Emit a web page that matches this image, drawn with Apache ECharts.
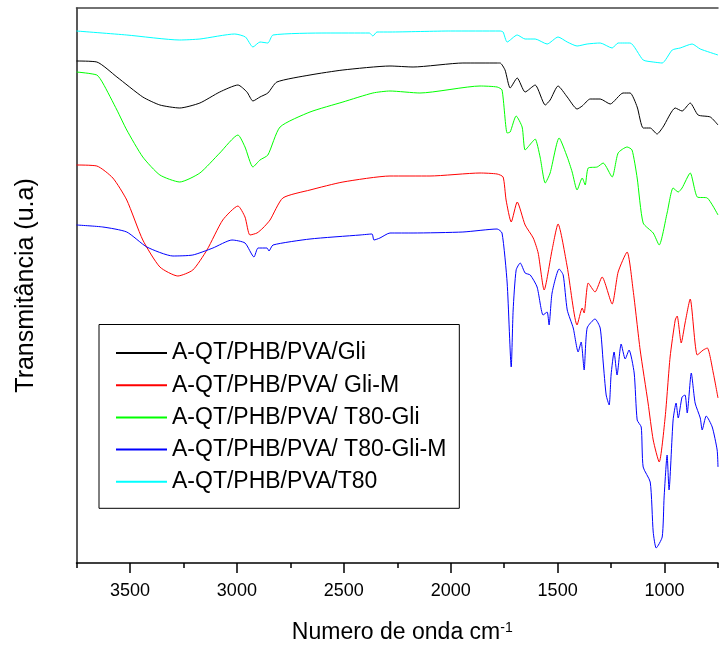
<!DOCTYPE html>
<html>
<head>
<meta charset="utf-8">
<script src="https://cdn.jsdelivr.net/npm/echarts@6/dist/echarts.min.js"></script>
<style>
  html, body { margin: 0; padding: 0; background: #fff; }
  #chart { width: 720px; height: 645px; }
</style>
</head>
<body>
<div id="chart"></div>
<script>
// FTIR spectra, wavenumber (cm-1) vs transmittance (arbitrary units, offset per sample)
const names = [
  'A-QT/PHB/PVA/Gli',
  'A-QT/PHB/PVA/ Gli-M',
  'A-QT/PHB/PVA/ T80-Gli',
  'A-QT/PHB/PVA/ T80-Gli-M',
  'A-QT/PHB/PVA/T80'
];
const colors = ['#000000', '#ff0000', '#00ff00', '#0000ff', '#00ffff'];

const majorTicks = [1000, 1500, 2000, 2500, 3000, 3500];
const minorTicks = [750, 1250, 1750, 2250, 2750, 3250, 3750];

const gli = [
  [3750, 502], [3655, 501], [3561, 486], [3440, 466], [3360, 458], [3267, 455],
  [3173, 460], [3080, 471], [2995, 478], [2953, 471], [2925, 462], [2892, 466],
  [2855, 470], [2813, 481], [2658, 488], [2504, 493], [2284, 497], [2176, 496],
  [1943, 500], [1783, 500], [1769, 500], [1746, 493], [1722, 475], [1689, 485],
  [1652, 471], [1605, 478], [1558, 458], [1535, 463], [1498, 477], [1455, 466],
  [1409, 454], [1385, 457], [1348, 464], [1301, 464], [1254, 459], [1194, 470],
  [1161, 470], [1128, 456], [1100, 435], [1067, 435], [1035, 429], [1007, 436],
  [950, 455], [918, 452], [880, 460], [843, 448], [786, 446], [750, 438]
];

const gliM = [
  [3750, 398], [3655, 397], [3580, 385], [3515, 363], [3440, 323], [3360, 296],
  [3276, 287], [3206, 293], [3140, 313], [3066, 343], [2995, 357], [2962, 346],
  [2939, 328], [2906, 330], [2878, 335], [2845, 343], [2785, 365], [2658, 373],
  [2504, 381], [2284, 387], [2097, 387], [1863, 390], [1783, 389], [1755, 386],
  [1741, 363], [1717, 341], [1689, 361], [1652, 338], [1614, 325], [1591, 310],
  [1563, 273], [1526, 313], [1498, 339], [1455, 296], [1409, 238], [1385, 255],
  [1376, 250], [1357, 280], [1325, 271], [1292, 286], [1245, 259], [1217, 291],
  [1175, 311], [1147, 273], [1114, 213], [1077, 160], [1053, 123], [1025, 101],
  [997, 146], [974, 206], [950, 243], [941, 247], [922, 220], [904, 240],
  [880, 264], [847, 208], [819, 213], [800, 215], [772, 190], [750, 165]
];

const t80Gli = [
  [3750, 491], [3655, 488], [3627, 480], [3561, 453], [3515, 433], [3440, 406],
  [3360, 388], [3267, 381], [3173, 390], [3080, 410], [2995, 428], [2962, 416],
  [2925, 396], [2892, 403], [2855, 408], [2798, 436], [2658, 451], [2504, 461],
  [2364, 470], [2284, 472], [2144, 470], [1863, 477], [1783, 476], [1760, 473],
  [1736, 430], [1722, 431], [1694, 447], [1666, 436], [1652, 413], [1619, 421],
  [1605, 424], [1582, 406], [1558, 380], [1535, 390], [1493, 425], [1455, 406],
  [1432, 391], [1409, 373], [1385, 385], [1371, 378], [1357, 395], [1315, 396],
  [1287, 400], [1245, 386], [1217, 410], [1175, 416], [1152, 413], [1128, 385],
  [1100, 340], [1053, 330], [1025, 318], [988, 350], [960, 375], [936, 371],
  [918, 375], [880, 390], [847, 366], [800, 365], [750, 348]
];

const t80GliM = [
  [3750, 338], [3627, 336], [3515, 331], [3421, 316], [3299, 307], [3206, 308],
  [3112, 315], [3023, 323], [2962, 320], [2920, 306], [2901, 315], [2859, 315],
  [2850, 312], [2831, 318], [2658, 324], [2424, 328], [2368, 329], [2359, 323],
  [2331, 325], [2284, 330], [2176, 330], [1943, 331], [1783, 334], [1760, 330],
  [1736, 280], [1717, 196], [1708, 253], [1694, 293], [1675, 300], [1652, 290],
  [1628, 288], [1596, 276], [1568, 248], [1549, 251], [1540, 238], [1526, 270],
  [1493, 294], [1474, 288], [1455, 253], [1427, 235], [1404, 211], [1390, 221],
  [1376, 193], [1362, 235], [1325, 244], [1301, 235], [1287, 201], [1273, 168],
  [1259, 158], [1250, 188], [1236, 211], [1222, 188], [1203, 219], [1184, 204],
  [1166, 213], [1142, 190], [1128, 143], [1109, 136], [1100, 96], [1067, 81],
  [1053, 31], [1039, 15], [1011, 26], [1002, 66], [988, 108], [979, 73],
  [960, 143], [946, 160], [936, 145], [918, 166], [904, 168], [894, 150],
  [875, 190], [857, 160], [833, 145], [824, 133], [805, 147], [777, 136],
  [754, 113], [750, 96]
];

const t80 = [
  [3750, 532], [3515, 528], [3267, 523], [3173, 524], [3010, 529], [2960, 526],
  [2925, 516], [2892, 521], [2855, 520], [2831, 528], [2579, 530], [2380, 530],
  [2364, 527], [2345, 531], [2284, 531], [2000, 532], [1769, 532], [1755, 531],
  [1736, 521], [1689, 528], [1652, 524], [1605, 524], [1549, 519], [1498, 526],
  [1455, 521], [1409, 517], [1362, 519], [1301, 520], [1245, 515], [1217, 520],
  [1161, 520], [1100, 503], [1053, 501], [1011, 500], [964, 513], [927, 515],
  [871, 519], [833, 514], [750, 508]
];

const spectra = [gli, gliM, t80Gli, t80GliM, t80];

const font = 'Liberation Sans, Arial, sans-serif';
const chart = echarts.init(document.getElementById('chart'), null, { renderer: 'canvas' });

const option = {
  animation: false,
  backgroundColor: '#fff',
  grid: { left: 76.5, right: 2, top: 8, bottom: 82, outerBoundsMode: 'none', containLabel: false },
  legend: {
    data: names,
    orient: 'vertical',
    left: 99,
    top: 324.5,
    padding: [16.5, 13, 14.5, 16],
    itemWidth: 51,
    itemHeight: 24,
    itemGap: 8.2,
    borderColor: '#000',
    borderWidth: 1,
    itemStyle: { opacity: 0 },
    textStyle: { fontFamily: font, fontSize: 23, color: '#000', lineHeight: 24 }
  },
  xAxis: [
    {
      type: 'value',
      min: 750,
      max: 3750,
      inverse: true,
      name: '{a|Numero de onda cm}{s|-1}',
      nameLocation: 'middle',
      nameGap: 58,
      nameTextStyle: {
        padding: [0, 0, 0, 10],
        rich: {
          a: { fontFamily: font, fontSize: 23, color: '#000' },
          s: { fontFamily: font, fontSize: 14, color: '#000', verticalAlign: 'top', padding: [0, 0, 10, 0] }
        }
      },
      splitLine: { show: false },
      axisLine: { show: true, onZero: false, lineStyle: { color: '#000', width: 1.5 } },
      axisTick: { show: true, length: 10, inside: false, customValues: majorTicks, lineStyle: { color: '#000', width: 1.5 } },
      axisLabel: {
        customValues: majorTicks,
        margin: 19,
        fontFamily: font,
        fontSize: 18,
        color: '#000',
        formatter: function (v) { return String(v); }
      }
    },
    {
      type: 'value',
      min: 750,
      max: 3750,
      inverse: true,
      position: 'bottom',
      splitLine: { show: false },
      axisLine: { show: false },
      axisTick: { show: true, length: 5, customValues: minorTicks, lineStyle: { color: '#000', width: 1.5 } },
      axisLabel: { show: false }
    },
    {
      type: 'value',
      min: 750,
      max: 3750,
      inverse: true,
      position: 'top',
      splitLine: { show: false },
      axisLine: { show: true, onZero: false, lineStyle: { color: '#444', width: 1.5 } },
      axisTick: { show: false },
      axisLabel: { show: false }
    }
  ],
  yAxis: {
    type: 'value',
    min: 0,
    max: 555,
    name: 'Transmitância (u.a)',
    nameLocation: 'middle',
    nameGap: 38,
    nameTextStyle: { fontFamily: font, fontSize: 25, color: '#000' },
    splitLine: { show: false },
    axisLine: { show: true, onZero: false, lineStyle: { color: '#222', width: 1.5 } },
    axisTick: { show: false },
    axisLabel: { show: false }
  },
  series: []
};

for (let i = 0; i < spectra.length; i++) {
  option.series.push({
    name: names[i],
    type: 'line',
    xAxisIndex: 0,
    data: spectra[i],
    symbol: 'none',
    smooth: 0.2,
    color: colors[i],
    lineStyle: { width: 1, color: colors[i] }
  });
}

chart.setOption(option);
</script>
</body>
</html>
